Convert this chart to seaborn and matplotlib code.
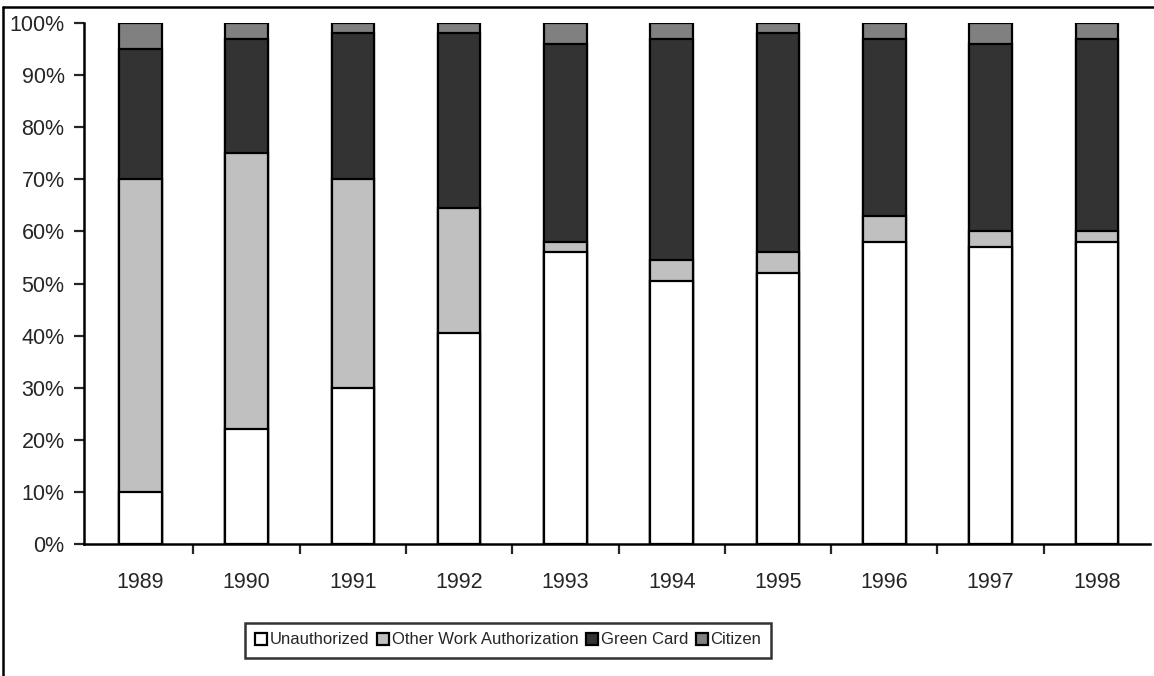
import numpy as np
import pandas as pd
import seaborn as sns
import matplotlib.pyplot as plt
from matplotlib.patches import Patch
from matplotlib.lines import Line2D
from matplotlib.ticker import FuncFormatter, FixedLocator

years = ['1989', '1990', '1991', '1992', '1993', '1994', '1995', '1996', '1997', '1998']
unauthorized = [10, 22, 30, 40.5, 56, 50.5, 52, 58, 57, 58]
other_work = [60, 53, 40, 24, 2, 4, 4, 5, 3, 2]
green_card = [25, 22, 28, 33.5, 38, 42.5, 42, 34, 36, 37]
citizen = [5, 3, 2, 2, 4, 3, 2, 3, 4, 3]

labels = ['Unauthorized', 'Other Work Authorization', 'Green Card', 'Citizen']
colors = ['#FFFFFF', '#C0C0C0', '#333333', '#808080']

#--------------
df = pd.DataFrame({'year': years, 'Unauthorized': unauthorized,
                   'Other Work Authorization': other_work,
                   'Green Card': green_card, 'Citizen': citizen})
cum = df[labels].cumsum(axis=1)

sns.set_style('white')
plt.rcParams['font.family'] = ['Liberation Sans', 'DejaVu Sans']

fig = plt.figure(figsize=(11.54, 6.76), dpi=100)
ax = fig.add_axes([84/1154, 1 - 544/676, (1150 - 84)/1154, (544 - 23)/676])

# draw stacked bars top layer first
for lab, col in reversed(list(zip(labels, colors))):
    sns.barplot(x=df['year'], y=cum[lab], color=col, width=0.4,
                edgecolor='black', linewidth=1.6, saturation=1, ax=ax)

ax.set_xlim(-0.53, 9.5)
ax.set_ylim(0, 100)
ax.set_yticks(np.arange(0, 101, 10))
ax.yaxis.set_major_formatter(FuncFormatter(lambda v, p: '%d%%' % v))
ax.set_xlabel('')
ax.set_ylabel('')

for s in ['top', 'right']:
    ax.spines[s].set_visible(False)
for s in ['left', 'bottom']:
    ax.spines[s].set_linewidth(1.8)
    ax.spines[s].set_color('black')

ax.tick_params(axis='y', which='major', left=True, direction='out', length=7,
               width=1.6, labelsize=15.5, pad=7)
ax.tick_params(axis='x', which='major', length=0, labelsize=15.5, pad=20)
ax.xaxis.set_minor_locator(FixedLocator(np.arange(0.5, 9.5, 1)))
ax.tick_params(axis='x', which='minor', bottom=True, direction='out', length=7, width=1.6)

handles = [Patch(facecolor=c, edgecolor='black', linewidth=1.6, label=l)
           for l, c in zip(labels, colors)]
leg = fig.legend(handles=handles, loc='center', bbox_to_anchor=(508/1154, 1 - 640/676),
                 ncol=4, fontsize=12, frameon=True, fancybox=False,
                 handlelength=0.75, handleheight=0.75, handletextpad=0.15,
                 columnspacing=0.45, borderpad=0.6, borderaxespad=0)
leg.get_frame().set_edgecolor('black')
leg.get_frame().set_linewidth(1.8)

# outer chart border
fig.add_artist(Line2D([3/1154, 3/1154], [0, 1 - 7/676], transform=fig.transFigure,
                      color='black', linewidth=1.8))
fig.add_artist(Line2D([3/1154, 1], [1 - 7/676, 1 - 7/676], transform=fig.transFigure,
                      color='black', linewidth=1.8))

fig.savefig('out.png', dpi=100)
